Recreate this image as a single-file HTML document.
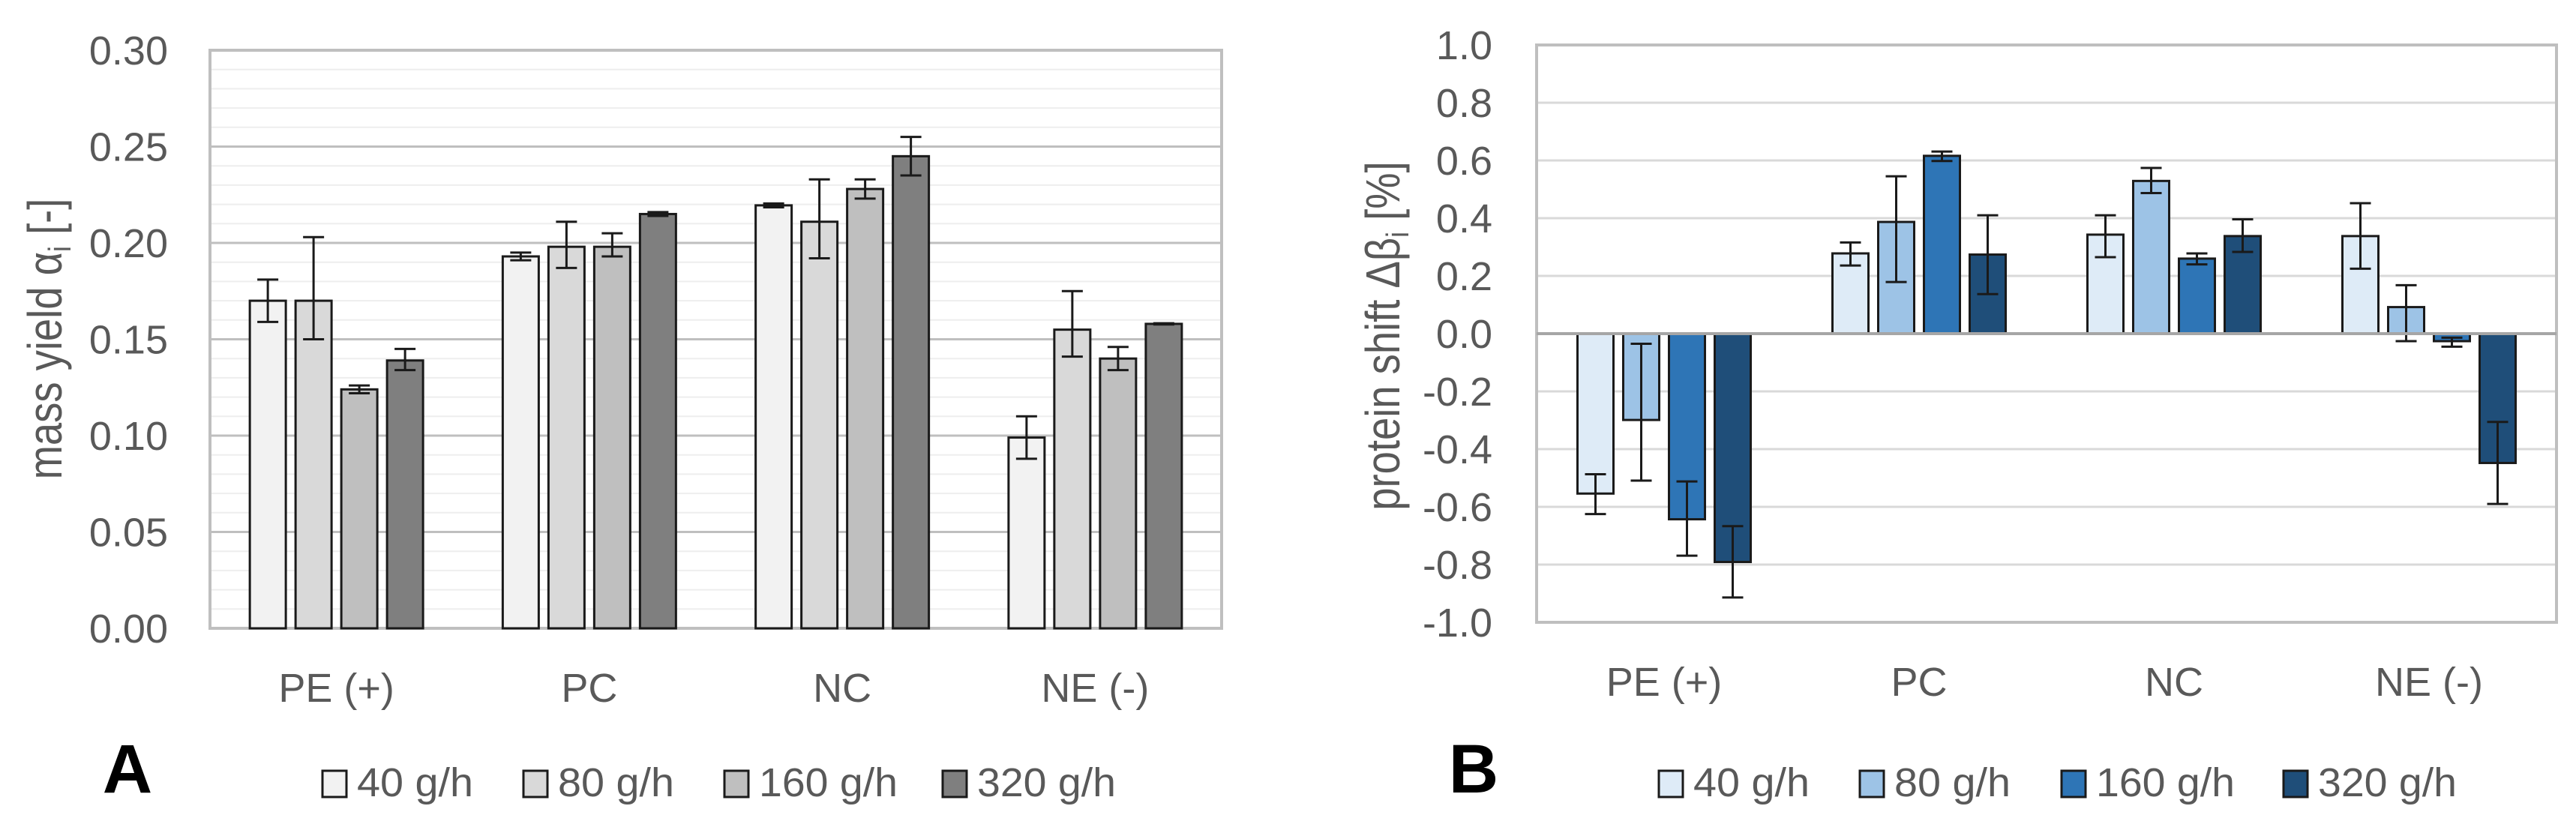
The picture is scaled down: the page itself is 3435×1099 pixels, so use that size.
<!DOCTYPE html>
<html><head><meta charset="utf-8">
<style>
html,body{margin:0;padding:0;background:#fff;}
svg{display:block;font-family:"Liberation Sans",sans-serif;}
</style></head>
<body>
<svg id="chart" width="3435" height="1099" viewBox="0 0 3435 1099" xmlns="http://www.w3.org/2000/svg">
<rect x="0" y="0" width="3435" height="1099" fill="#fff"/>
</svg>
<script>
const categories = ["PE (+)", "PC", "NC", "NE (-)"];
const seriesNames = ["40 g/h", "80 g/h", "160 g/h", "320 g/h"];
// Chart A: mass yield
const yieldA40 = [0.170, 0.193, 0.2195, 0.099];
const yieldA80 = [0.170, 0.198, 0.211, 0.155];
const yieldA160 = [0.124, 0.198, 0.228, 0.140];
const yieldA320 = [0.139, 0.215, 0.245, 0.158];
const errUpA40 = [0.011, 0.002, 0.001, 0.011];
const errUpA80 = [0.033, 0.013, 0.022, 0.020];
const errUpA160 = [0.002, 0.007, 0.005, 0.006];
const errUpA320 = [0.006, 0.001, 0.010, 0.0003];
const errDnA40 = [0.011, 0.002, 0.001, 0.011];
const errDnA80 = [0.020, 0.011, 0.019, 0.014];
const errDnA160 = [0.002, 0.005, 0.005, 0.006];
const errDnA320 = [0.005, 0.001, 0.010, 0.0003];
const ticksA = ["0.00","0.05","0.10","0.15","0.20","0.25","0.30"];
// Chart B: protein shift
const shiftB40 = [-0.554, 0.278, 0.343, 0.338];
const shiftB80 = [-0.299, 0.387, 0.529, 0.092];
const shiftB160 = [-0.643, 0.616, 0.260, -0.026];
const shiftB320 = [-0.791, 0.274, 0.338, -0.448];
const errUpB40 = [0.067, 0.038, 0.067, 0.114];
const errUpB80 = [0.264, 0.158, 0.045, 0.076];
const errUpB160 = [0.131, 0.015, 0.018, 0.012];
const errUpB320 = [0.124, 0.136, 0.058, 0.142];
const errDnB40 = [0.071, 0.042, 0.078, 0.113];
const errDnB80 = [0.210, 0.208, 0.042, 0.118];
const errDnB160 = [0.126, 0.018, 0.020, 0.019];
const errDnB320 = [0.123, 0.137, 0.055, 0.142];
const ticksB = ["-1.0","-0.8","-0.6","-0.4","-0.2","0.0","0.2","0.4","0.6","0.8","1.0"];

const NS = "http://www.w3.org/2000/svg";
const svg = document.getElementById("chart");
function mk(tag, attrs, parent, text){
  const e = document.createElementNS(NS, tag);
  for (const k in attrs) e.setAttribute(k, attrs[k]);
  if (text !== undefined) e.textContent = text;
  (parent || svg).appendChild(e);
  return e;
}

function drawChart(cfg){
  const g = mk("g", {});
  
  
  const y = v => cfg.y0 - (v - cfg.vmin) / (cfg.vmax - cfg.vmin) * (cfg.y0 - cfg.y1);
  const gw = (cfg.x1 - cfg.x0) / categories.length;
  if (cfg.minor) {
    for (let v = cfg.vmin; v <= cfg.vmax + 1e-9; v += cfg.minor) {
      const l = mk("line", {x1: cfg.x0, x2: cfg.x1, y1: y(v), y2: y(v), stroke: "#eeeeee", "stroke-width": 2}, g);
      
      
    }
  }
  cfg.ticks.forEach(t => {
    const v = parseFloat(t);
    const l = mk("line", {x1: cfg.x0, x2: cfg.x1, y1: y(v), y2: y(v), stroke: cfg.majorColor, "stroke-width": 3}, g);
    
    
    const tx = mk("text", {x: cfg.tickRight, y: y(v) + 19, "text-anchor": "end", "font-size": 54, fill: "#595959"}, g, t);
    
    
  });
  const fr = mk("rect", {x: cfg.x0, y: cfg.y1, width: cfg.x1 - cfg.x0, height: cfg.y0 - cfg.y1, fill: "none", stroke: "#bfbfbf", "stroke-width": 4}, g);
  
  
  const bw = 48, pitch = 61;
  cfg.series.forEach((vals, si) => {
    vals.forEach((v, ci) => {
      const cx = cfg.x0 + gw * (ci + 0.5);
      const bx = cx - (3 * pitch + bw) / 2 + si * pitch;
      const yv = y(v), yz = y(cfg.base);
      const r = mk("rect", {x: bx, y: Math.min(yv, yz), width: bw, height: Math.abs(yz - yv), fill: cfg.colors[si], stroke: "#1a1a1a", "stroke-width": 3}, g);
      
      
      const up = cfg.errUp[si][ci], dn = cfg.errDn[si][ci];
      const ex = bx + bw / 2;
      const eg = mk("g", {stroke: "#1a1a1a", "stroke-width": 3}, g);
      
      
      mk("line", {x1: ex, x2: ex, y1: y(v + up), y2: y(v - dn)}, eg);
      mk("line", {x1: ex - 14, x2: ex + 14, y1: y(v + up), y2: y(v + up)}, eg);
      mk("line", {x1: ex - 14, x2: ex + 14, y1: y(v - dn), y2: y(v - dn)}, eg);
    });
  });
  if (cfg.zeroLine) {
    const z = mk("line", {x1: cfg.x0, x2: cfg.x1, y1: y(0), y2: y(0), stroke: "#a6a6a6", "stroke-width": 4}, g);
    
    
  }
  categories.forEach((c, ci) => {
    const t = mk("text", {x: cfg.x0 + gw * (ci + 0.5), y: cfg.catY, "text-anchor": "middle", "font-size": 54, fill: "#595959"}, g, c);
    
    
  });
  const at = mk("text", {transform: `translate(${cfg.titleX},${cfg.titleY}) rotate(-90) scale(0.85,1)`, "text-anchor": "middle", "font-size": 64, fill: "#595959"}, g);
  
  
  at.innerHTML = cfg.title;
  const pl = mk("text", {x: cfg.panelX, y: 1057, "text-anchor": "middle", "font-size": 92, "font-weight": "bold", fill: "#000"}, g, cfg.panel);
  
  
  cfg.legendX.forEach((lx, si) => {
    const le = mk("g", {}, g);
    
    
    mk("rect", {x: lx, y: 1028, width: 32, height: 35, fill: cfg.colors[si], stroke: "#1a1a1a", "stroke-width": 3}, le);
    mk("text", {x: lx + 46, y: 1062, "font-size": 54, fill: "#595959", textLength: seriesNames[si].length > 6 ? 185 : 155, lengthAdjust: "spacingAndGlyphs"}, le, seriesNames[si]);
  });
}

drawChart({
  name: "chart-a-mass-yield", x0: 280, x1: 1629, y0: 838, y1: 67, vmin: 0, vmax: 0.30, base: 0,
  minor: 0.01, majorColor: "#bfbfbf", ticks: ticksA, tickRight: 224,
  series: [yieldA40, yieldA80, yieldA160, yieldA320],
  errUp: [errUpA40, errUpA80, errUpA160, errUpA320],
  errDn: [errDnA40, errDnA80, errDnA160, errDnA320],
  colors: ["#f2f2f2", "#d9d9d9", "#bfbfbf", "#7f7f7f"],
  catY: 936, titleX: 82, titleY: 452,
  title: 'mass yield α<tspan font-size="42" dy="12">i</tspan><tspan dy="-12"> [-]</tspan>',
  panel: "A", panelX: 170, legendX: [430, 698, 966, 1257], zeroLine: false
});
drawChart({
  name: "chart-b-protein-shift", x0: 2049, x1: 3409, y0: 830, y1: 60, vmin: -1, vmax: 1, base: 0,
  minor: 0, majorColor: "#d9d9d9", ticks: ticksB, tickRight: 1990,
  series: [shiftB40, shiftB80, shiftB160, shiftB320],
  errUp: [errUpB40, errUpB80, errUpB160, errUpB320],
  errDn: [errDnB40, errDnB80, errDnB160, errDnB320],
  colors: ["#deebf7", "#9dc3e6", "#2e75b6", "#1f4e79"],
  catY: 928, titleX: 1866, titleY: 448,
  title: 'protein shift Δβ<tspan font-size="42" dy="12">i</tspan><tspan dy="-12"> [%]</tspan>',
  panel: "B", panelX: 1965, legendX: [2212, 2480, 2749, 3045], zeroLine: true
});
</script>
</body></html>
